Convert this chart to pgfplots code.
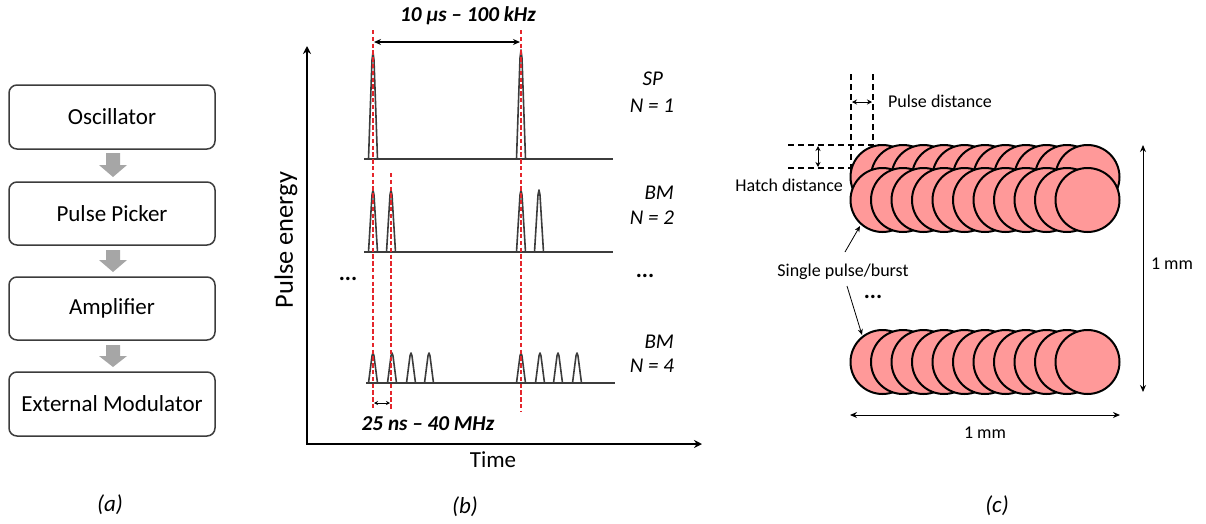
\documentclass[border=0pt]{standalone}
\usepackage{pgfplots}
\pgfplotsset{compat=1.18}
\usepackage{fontspec}
\setmainfont{Carlito}
\usetikzlibrary{arrows.meta}
\definecolor{pinkc}{RGB}{255,153,153}
\definecolor{redd}{RGB}{228,38,44}
\definecolor{arrgray}{RGB}{166,166,166}
\definecolor{boxc}{RGB}{60,60,60}
\definecolor{pulsec}{RGB}{60,60,60}
\newcommand{\fa}{\fontsize{11.5}{13}\selectfont}
\newcommand{\fbb}{\fontsize{10.6}{12}\selectfont}
\newcommand{\fb}{\fontsize{10.5}{12}\selectfont}
\newcommand{\fc}{\fontsize{9}{10.5}\selectfont}
\begin{document}
\begin{tikzpicture}
\begin{axis}[x=0.5pt,y=0.5pt,xmin=0,xmax=1206,ymin=0,ymax=522,y dir=reverse,hide axis,clip=false]
\addplot[draw=none] coordinates {(0,0) (1206,522)};
% ---------- panel (a)
\addplot[draw=boxc,line width=0.75pt,rounded corners=4pt] coordinates {(9,85) (215,85) (215,149) (9,149)} -- cycle;
\addplot[draw=boxc,line width=0.75pt,rounded corners=4pt] coordinates {(9,182) (215,182) (215,245) (9,245)} -- cycle;
\addplot[draw=boxc,line width=0.75pt,rounded corners=4pt] coordinates {(9,277) (215,277) (215,340) (9,340)} -- cycle;
\addplot[draw=boxc,line width=0.75pt,rounded corners=4pt] coordinates {(9,372) (215,372) (215,436) (9,436)} -- cycle;
\addplot[fill=arrgray,draw=none] coordinates {(106,153) (120,153) (120,165) (127,165) (113,177) (99,165) (106,165)} -- cycle;
\addplot[fill=arrgray,draw=none] coordinates {(106,250) (120,250) (120,260) (127,260) (113,272) (99,260) (106,260)} -- cycle;
\addplot[fill=arrgray,draw=none] coordinates {(106,345) (120,345) (120,356) (127,356) (113,367) (99,356) (106,356)} -- cycle;
\node[font=\fa] at (axis cs:112,117) {Oscillator};
\node[font=\fa] at (axis cs:112,213.5) {Pulse Picker};
\node[font=\fa] at (axis cs:112,308.5) {Amplifier};
\node[font=\fa] at (axis cs:112,404) {External Modulator};
\node[font=\fa\itshape] at (axis cs:110,505) {(a)};
% ---------- panel (b)
\addplot[black,line width=1pt,-{Stealth[length=4pt,width=4pt]}] coordinates {(307,444) (307,46)};
\addplot[black,line width=1pt,-{Stealth[length=4pt,width=4pt]}] coordinates {(306,444) (702,444)};
% baselines
\addplot[pulsec,line width=1pt] coordinates {(364,159) (613,159)};
\addplot[pulsec,line width=1pt] coordinates {(364,252) (613,252)};
\addplot[pulsec,line width=1pt] coordinates {(366,383) (615,383)};
% pulses
\pgfplotsset{pulse/.style={pulsec,line width=0.8pt,line join=round}}
\addplot[pulse] coordinates {(368.5,159) (372,60) (373,52) (374,60) (377.5,159)};
\addplot[pulse] coordinates {(516.5,159) (520,58) (521,50) (522,58) (525.5,159)};
\addplot[pulse] coordinates {(368.5,252) (372,195) (373,190) (374,195) (377.5,252)};
\addplot[pulse] coordinates {(386.5,252) (390,195) (391,190) (392,195) (395.5,252)};
\addplot[pulse] coordinates {(516.5,252) (520,195) (521,190) (522,195) (525.5,252)};
\addplot[pulse] coordinates {(534.5,252) (538,195) (539,190) (540,195) (543.5,252)};
\addplot[pulse] coordinates {(368.5,383) (372,356) (373,353) (374,356) (377.5,383)};
\addplot[pulse] coordinates {(387.5,383) (391,356) (392,353) (393,356) (396.5,383)};
\addplot[pulse] coordinates {(406.5,383) (410,356) (411,353) (412,356) (415.5,383)};
\addplot[pulse] coordinates {(424.5,383) (428,356) (429,353) (430,356) (433.5,383)};
\addplot[pulse] coordinates {(516.5,383) (520,356) (521,353) (522,356) (525.5,383)};
\addplot[pulse] coordinates {(535.5,383) (539,356) (540,353) (541,356) (544.5,383)};
\addplot[pulse] coordinates {(553.5,383) (557,356) (558,353) (559,356) (562.5,383)};
\addplot[pulse] coordinates {(572.5,383) (576,356) (577,353) (578,356) (581.5,383)};
% red dashed
\addplot[redd,line width=0.8pt,dash pattern=on 2.2pt off 1.2pt] coordinates {(373,30) (373,410)};
\addplot[redd,line width=0.8pt,dash pattern=on 2.2pt off 1.2pt] coordinates {(391,173) (391,410)};
\addplot[redd,line width=0.8pt,dash pattern=on 2.2pt off 1.2pt] coordinates {(521,30) (521,412)};
% interval arrows
\addplot[black,line width=0.6pt,{Stealth[length=3.5pt,width=3pt]}-{Stealth[length=3.5pt,width=3pt]}] coordinates {(374,42) (520,42)};
\addplot[black,line width=0.5pt,{Stealth[length=2pt,width=2pt]}-{Stealth[length=2pt,width=2pt]}] coordinates {(374,403) (390,403)};
\node[font=\fbb\bfseries\itshape] at (axis cs:468,16) {10 µs -- 100 kHz};
\node[font=\fbb\bfseries\itshape] at (axis cs:428,424) {25 ns -- 40 MHz};
\node[font=\fa\bfseries] at (axis cs:348,279) {...};
\node[font=\fa\bfseries] at (axis cs:645,276) {...};
\node[font=\fb\itshape,anchor=east] at (axis cs:670,79) {SP};
\node[font=\fb\itshape,anchor=east] at (axis cs:681,106) {N = 1};
\node[font=\fb\itshape,anchor=east] at (axis cs:681,193) {BM};
\node[font=\fb\itshape,anchor=east] at (axis cs:681,218) {N = 2};
\node[font=\fb\itshape,anchor=east] at (axis cs:681,342) {BM};
\node[font=\fb\itshape,anchor=east] at (axis cs:681,366) {N = 4};
\node[font=\fontsize{13.2}{15}\selectfont,rotate=90] at (axis cs:286,240) {Pulse energy};
\node[font=\fa] at (axis cs:493,460) {Time};
\node[font=\fa\itshape] at (axis cs:465,507) {(b)};
% ---------- panel (c)
\addplot[only marks,mark=*,mark size=16pt,mark options={fill=pinkc,draw=black,line width=1pt}] coordinates {(882.5,177) (903,177) (923.5,177) (944,177) (964.5,177) (985,177) (1005.5,177) (1026,177) (1046.5,177) (1067,177) (1087.5,177)};
\addplot[only marks,mark=*,mark size=16pt,mark options={fill=pinkc,draw=black,line width=1pt}] coordinates {(882.5,200) (903,200) (923.5,200) (944,200) (964.5,200) (985,200) (1005.5,200) (1026,200) (1046.5,200) (1067,200) (1087.5,200)};
\addplot[only marks,mark=*,mark size=16pt,mark options={fill=pinkc,draw=black,line width=1pt}] coordinates {(882.5,362) (903,362) (923.5,362) (944,362) (964.5,362) (985,362) (1005.5,362) (1026,362) (1046.5,362) (1067,362) (1087.5,362)};
\addplot[black,line width=0.6pt,dash pattern=on 3pt off 2pt] coordinates {(851,74) (851,180)};
\addplot[black,line width=0.6pt,dash pattern=on 3pt off 2pt] coordinates {(873,74) (873,186)};
\addplot[black,line width=0.6pt,dash pattern=on 3pt off 2pt] coordinates {(788,145) (880,145)};
\addplot[black,line width=0.6pt,dash pattern=on 3pt off 2pt] coordinates {(788,168) (880,168)};
\addplot[black,line width=0.5pt,{Stealth[length=2.5pt,width=2.5pt]}-{Stealth[length=2.5pt,width=2.5pt]}] coordinates {(852,102) (872,102)};
\addplot[black,line width=0.5pt,{Stealth[length=2.5pt,width=2.5pt]}-{Stealth[length=2.5pt,width=2.5pt]}] coordinates {(818,146) (818,167)};
\node[font=\fc,anchor=west] at (axis cs:881,101) {Pulse distance};
\node[font=\fc,anchor=east] at (axis cs:850,185) {Hatch distance};
\node[font=\fc] at (axis cs:843,272) {Single pulse/burst};
\addplot[black,line width=0.4pt,-{Stealth[length=3pt,width=2.5pt]}] coordinates {(845,252) (860,226)};
\addplot[black,line width=0.4pt,-{Stealth[length=3pt,width=2.5pt]}] coordinates {(847,286) (862,335)};
\node[font=\fa\bfseries] at (axis cs:873,297) {...};
\addplot[black,line width=0.5pt,{Stealth[length=3.5pt,width=3pt]}-{Stealth[length=3.5pt,width=3pt]}] coordinates {(1143,145) (1143,392)};
\addplot[black,line width=0.5pt,{Stealth[length=3.5pt,width=3pt]}-{Stealth[length=3.5pt,width=3pt]}] coordinates {(850,415) (1120,415)};
\node[font=\fc] at (axis cs:1172,264) {1 mm};
\node[font=\fc] at (axis cs:985,433) {1 mm};
\node[font=\fa\itshape] at (axis cs:997,506) {(c)};
\end{axis}
\end{tikzpicture}
\end{document}
